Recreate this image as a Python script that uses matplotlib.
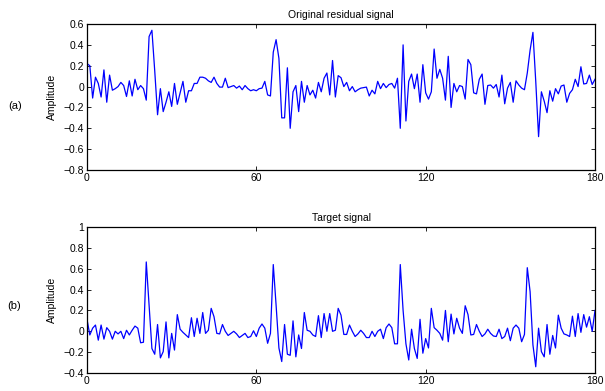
import numpy as np
import matplotlib
matplotlib.use('Agg')
import matplotlib.pyplot as plt

plt.rcParams['font.family'] = ['Liberation Sans', 'DejaVu Sans']

# residual signal, one value per sample 0..180
residual = [
    0.22, 0.20, -0.11, 0.09, 0.03, -0.10, 0.16, -0.15, 0.11, -0.035,
    -0.02, 0.0, 0.04, 0.01, -0.095, 0.055, -0.09, 0.07, -0.03, 0.01,
    -0.02, -0.13, 0.48, 0.54, 0.15, -0.27, -0.02, -0.24, -0.15, -0.05,
    -0.19, 0.03, -0.17, -0.06, 0.05, -0.15, -0.04, -0.04, 0.03, 0.03,
    0.09, 0.09, 0.08, 0.055, 0.04, 0.09, 0.03, -0.005, -0.005, 0.08,
    -0.01, 0.0, 0.01, -0.015, 0.005, -0.03, 0.01, -0.02, -0.04, -0.03,
    -0.04, -0.02, -0.015, 0.05, -0.08, -0.09, 0.33, 0.45, 0.27, -0.30,
    -0.30, 0.18, -0.40, -0.05, 0.01, -0.24, 0.05, -0.15, 0.01, -0.08,
    -0.035, -0.11, 0.04, -0.05, 0.08, 0.13, -0.08, 0.25, -0.10, 0.105,
    0.085, 0.0, 0.04, -0.04, 0.0, -0.05, -0.03, -0.015, -0.01, -0.005,
    -0.09, -0.035, -0.07, 0.05, -0.02, 0.03, -0.01, 0.02, 0.03, -0.015,
    0.08, -0.40, 0.40, -0.33, 0.05, 0.12, -0.02, 0.12, -0.15, 0.21,
    -0.06, -0.12, -0.05, 0.36, 0.08, 0.165, 0.08, -0.13, 0.29, -0.20,
    0.03, -0.05, 0.01, 0.0, -0.12, 0.26, 0.21, -0.06, -0.07, 0.07,
    0.12, -0.17, 0.01, 0.015, -0.015, 0.02, -0.10, 0.11, -0.165, -0.015,
    0.04, -0.15, 0.055, 0.015, -0.015, -0.03, 0.13, 0.35, 0.52, 0.05,
    -0.48, -0.05, -0.14, -0.25, -0.04, -0.14, -0.02, -0.07, 0.005, 0.015,
    -0.15, -0.065, -0.03, 0.07, 0.0, 0.19, 0.025, 0.03, 0.11, 0.02,
    0.07,
]

# target signal
target = [
    0.115, -0.035, 0.03, 0.06, -0.085, 0.06, -0.075, 0.035, 0.0, -0.075,
    0.0, -0.025, 0.0, -0.07, 0.01, -0.035, 0.01, 0.05, 0.03, -0.11,
    -0.105, 0.665, 0.25, -0.165, -0.22, 0.065, -0.255, -0.195, 0.09, -0.255,
    -0.02, -0.18, 0.16, 0.02, -0.01, -0.035, -0.06, 0.13, -0.05, 0.125,
    -0.02, 0.18, -0.02, 0.01, 0.22, 0.14, -0.02, -0.025, 0.065, 0.0,
    -0.04, -0.02, 0.0, -0.025, -0.06, -0.04, -0.02, -0.06, -0.05, 0.005,
    -0.05, 0.03, 0.07, 0.03, -0.115, -0.02, 0.64, 0.25, -0.16, -0.29,
    0.065, -0.22, -0.23, 0.10, -0.245, -0.035, -0.165, 0.18, 0.01, 0.0,
    -0.035, -0.05, 0.15, -0.06, 0.17, 0.0, 0.17, 0.0, 0.01, 0.22,
    0.155, -0.03, -0.03, 0.06, 0.0, -0.05, -0.025, 0.01, -0.02, -0.06,
    -0.06, 0.0, -0.05, 0.0, 0.02, -0.07, 0.035, 0.07, 0.035, -0.12,
    -0.12, 0.64, 0.20, -0.12, -0.275, 0.02, -0.165, -0.26, 0.115, -0.21,
    -0.07, -0.16, 0.22, 0.035, 0.01, -0.02, -0.085, 0.20, -0.10, 0.165,
    -0.025, 0.125, 0.03, -0.02, 0.245, 0.16, -0.035, -0.03, 0.065, 0.0,
    -0.05, -0.025, 0.02, -0.02, -0.045, -0.05, 0.02, -0.07, -0.05, 0.03,
    -0.09, 0.03, 0.06, 0.03, -0.10, -0.03, 0.61, 0.38, -0.13, -0.34,
    0.03, -0.195, -0.245, 0.065, -0.22, -0.04, -0.16, 0.155, 0.03, -0.025,
    -0.035, -0.05, 0.145, -0.05, 0.17, -0.01, 0.16, 0.04, 0.14, 0.0,
    0.2,
]

xticks = [0, 60, 120, 180]
yticks_a = [-0.8, -0.6, -0.4, -0.2, 0, 0.2, 0.4, 0.6]
yticks_b = [-0.4, -0.2, 0, 0.2, 0.4, 0.6, 0.8, 1]

samples = np.arange(len(residual))


def fmt(v):
    s = '%g' % v
    return s.replace('-', '\u2212')


fig = plt.figure(figsize=(6.05, 3.91), dpi=100)
ax1 = fig.add_axes([0.1438, 0.5652, 0.8397, 0.3734])
ax2 = fig.add_axes([0.1438, 0.046, 0.8397, 0.3734])

panels = [
    (ax1, residual, 'Original residual signal', yticks_a, '(a)'),
    (ax2, target, 'Target signal', yticks_b, '(b)'),
]

for ax, sig, title, yt, tag in panels:
    ax.plot(samples, sig, color='#0000ff', lw=0.9)
    ax.set_xlim(0, 180)
    ax.set_ylim(yt[0], yt[-1])
    ax.set_xticks(xticks)
    ax.set_yticks(yt)
    ax.set_yticklabels([fmt(v) for v in yt])
    ax.tick_params(direction='in', top=True, right=True, labelsize=7.5,
                   length=3, width=0.6, pad=2)
    ax.set_title(title, fontsize=7.5, pad=4)
    ax.set_ylabel('Amplitude', fontsize=7.5, labelpad=5)
    for s in ax.spines.values():
        s.set_linewidth(0.9)

fig.text(0.025, 0.73, '(a)', fontsize=8, va='center', ha='center')
fig.text(0.023, 0.217, '(b)', fontsize=8, va='center', ha='center')

fig.savefig('out.png', dpi=100)
